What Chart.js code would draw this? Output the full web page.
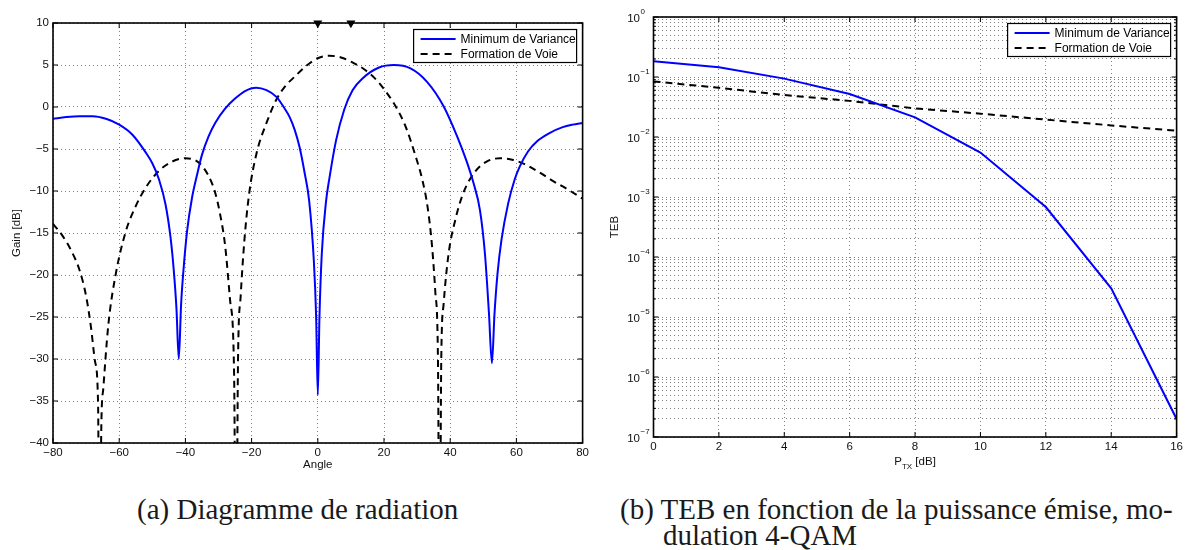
<!DOCTYPE html>
<html>
<head>
<meta charset="utf-8">
<script src="https://cdn.jsdelivr.net/npm/chart.js@4.4.1/dist/chart.umd.min.js"></script>
<style>
  body { margin: 0; background: #fff; width: 1186px; height: 550px; overflow: hidden; position: relative; }
  .plot { position: absolute; top: 0; }
  .cap { position: absolute; font-family: 'Liberation Serif', 'Times New Roman', serif; font-size: 29px; line-height: 30px; color: #1a1a1a; white-space: nowrap; }
</style>
</head>
<body>
<div class="plot" style="left:0px"><canvas id="chartA" width="592" height="480"></canvas></div>
<div class="plot" style="left:590px"><canvas id="chartB" width="596" height="480"></canvas></div>
<div class="cap" style="left:137px;top:494px">(a) Diagramme de radiation</div>
<div class="cap" style="left:620px;top:494px">(b) TEB en fonction de la puissance émise, mo-</div>
<div class="cap" style="left:663px;top:520px">dulation 4-QAM</div>
<script>
// (a) diagramme de radiation
const angleMV = [-80, -76, -72, -68, -64, -60, -56, -52, -50, -48, -46, -44.5, -43.5, -42.7, -42, -41.3, -40.6, -39.5, -38, -36.5,
  -35, -33, -31, -28, -25, -22, -18.6, -15.5, -12.5, -10, -8.5, -7, -5.5, -4, -2.6, -1.2, -0.5, 0, 0.5, 1.2,
  2.5, 3.5, 5.5, 8, 10.5, 13.5, 18.5, 23, 28, 33, 38, 42, 45, 47, 49, 50.5, 51.7, 52.6, 53.4, 54.3,
  55.5, 57.5, 59.5, 61, 63.5, 66.5, 70, 74, 77, 80];
const gainMV = [-1.4, -1.2, -1.1, -1.1, -1.4, -2.1, -3.3, -5.4, -6.7, -8.6, -11.6, -15.5, -19.5, -24, -30, -23.5, -19.5, -14.8, -10.8, -8.1,
  -5.7, -3.5, -1.9, -0.2, 1.0, 1.9, 2.3, 2.0, 1.2, -0.2, -1.2, -2.7, -4.8, -7.8, -11.2, -18.3, -25, -34.3, -25, -17.5,
  -11.2, -8.5, -4.0, -0.3, 2.0, 3.4, 4.7, 5.0, 4.6, 3.0, 0.1, -3.4, -6.5, -9.0, -12.3, -17.5, -24.5, -30.5, -24.5, -19.8,
  -15.8, -11.5, -8.6, -7.1, -5.3, -4.0, -3.1, -2.4, -2.1, -1.9];

const angleFV = [-80, -77, -74.5, -72, -70, -68.5, -67.3, -66.4, -65.9, -65.4, -64.8, -63.3, -61, -58, -55, -52, -48, -44, -40, -36,
  -33, -31, -29.6, -28, -26.5, -25.3, -24.7, -24.1, -23.3, -22.2, -20.8, -18.5, -15.5, -12.5, -10, -7, -3.5, 0, 3.5, 7,
  10, 14, 18, 21, 23.5, 26.5, 29.5, 31.6, 33.2, 34.5, 35.5, 36.3, 36.8, 37.3, 38, 39.5, 41.5, 44, 47.5, 51,
  55, 59, 63, 67, 71, 75, 80];
const gainFV = [-13.9, -15.4, -17.1, -19.4, -22.5, -26.3, -30.3, -35.0, -60, -38, -33.5, -26.0, -19.8, -14.8, -11.8, -9.6, -7.6, -6.5, -6.1, -6.6,
  -8.2, -10.2, -12.6, -16.5, -23.0, -31.5, -60, -30, -22.5, -16.0, -10.5, -5.5, -1.9, 0.9, 2.4, 3.6, 4.9, 5.8, 6.1, 5.9,
  5.4, 4.5, 3.1, 1.6, 0.1, -2.3, -5.8, -8.7, -12.0, -16.5, -22.0, -30, -60, -30, -23.5, -17.5, -13.5, -10.2, -7.7, -6.5,
  -6.1, -6.3, -6.9, -7.8, -8.8, -9.7, -10.9];

const markAngle = [0, 10];
const markGain = [10, 10];

const angleTicks = [-80, -60, -40, -20, 0, 20, 40, 60, 80];
const gainTicks = [-40, -35, -30, -25, -20, -15, -10, -5, 0, 5, 10];

// (b) TEB vs puissance
const pTx = [0, 2, 4, 6, 8, 10, 12, 14, 16];
const tebMV = [0.183, 0.145, 0.094, 0.052, 0.0213, 0.0055, 6.8e-4, 3.0e-5, 2.0e-7];
const tebFV = [0.0845, 0.066, 0.050, 0.040, 0.030, 0.0245, 0.0195, 0.0156, 0.0127];
const tebDecades = [-7, -6, -5, -4, -3, -2, -1, 0];

Chart.defaults.font.family = "'Liberation Sans', Arial, sans-serif";
Chart.defaults.font.size = 11.5;
Chart.defaults.color = '#111';

const gridDash = [1, 3];
const gridColor = 'rgba(0,0,0,0.5)';
const minus = v => String(v).replace('-', '\u2212');
const pts = (xs, ys) => xs.map((v, i) => ({x: v, y: ys[i]}));
const isDecade = v => Math.abs(Math.log10(v) - Math.round(Math.log10(v))) < 1e-6;

// box, inward ticks and boxed legend, matlab style
const frame = {
  id: 'frame',
  afterDatasetsDraw(chart, args, opts) {
    const {ctx, chartArea: a, scales: {x, y}} = chart;
    ctx.save();
    ctx.strokeStyle = '#000';
    ctx.lineWidth = 1;
    ctx.beginPath();
    x.ticks.forEach(t => {
      const px = x.getPixelForValue(t.value);
      ctx.moveTo(px, a.bottom); ctx.lineTo(px, a.bottom - 5);
      ctx.moveTo(px, a.top); ctx.lineTo(px, a.top + 5);
    });
    y.ticks.forEach(t => {
      const py = y.getPixelForValue(t.value);
      const len = opts.log && !isDecade(t.value) ? 2.5 : 5;
      ctx.moveTo(a.left, py); ctx.lineTo(a.left + len, py);
      ctx.moveTo(a.right, py); ctx.lineTo(a.right - len, py);
    });
    ctx.stroke();

    ctx.lineWidth = 1.6;
    ctx.strokeRect(a.left, a.top, a.right - a.left, a.bottom - a.top);

    // legend
    const sets = chart.data.datasets.filter(d => d.label);
    const w = 163, h = 33;
    const lx = a.right - 6 - w, ly = a.top + 6.5;
    ctx.fillStyle = '#fff';
    ctx.fillRect(lx, ly, w, h);
    ctx.lineWidth = 1.2;
    ctx.strokeRect(lx, ly, w, h);
    ctx.font = "12px 'Liberation Sans', Arial, sans-serif";
    ctx.textBaseline = 'middle';
    sets.forEach((d, i) => {
      const yy = ly + 9.5 + i * 15;
      ctx.beginPath();
      ctx.setLineDash(d.borderDash || []);
      ctx.strokeStyle = d.borderColor;
      ctx.lineWidth = d.borderWidth;
      ctx.moveTo(lx + 7, yy); ctx.lineTo(lx + 42, yy);
      ctx.stroke();
      ctx.setLineDash([]);
      ctx.fillStyle = '#000';
      ctx.fillText(d.label, lx + 47, yy + 0.5);
    });

    // log axis labels 10^n and subscript x title
    if (opts.log) {
      ctx.fillStyle = '#111';
      tebDecades.forEach(e => {
        const py = y.getPixelForValue(Math.pow(10, e));
        ctx.font = "11.5px 'Liberation Sans', Arial, sans-serif";
        ctx.textAlign = 'right';
        ctx.fillText('10', a.left - 13.5, py + 1.5);
        ctx.font = "8px 'Liberation Sans', Arial, sans-serif";
        ctx.textAlign = 'left';
        ctx.fillText(minus(e), a.left - 13, py - 5);
      });
      const big = "11.5px 'Liberation Sans', Arial, sans-serif";
      const small = "8px 'Liberation Sans', Arial, sans-serif";
      ctx.font = big; const wP = ctx.measureText('P').width; const wD = ctx.measureText(' [dB]').width;
      ctx.font = small; const wS = ctx.measureText('TX').width;
      let tx = (a.left + a.right) / 2 - (wP + wS + wD) / 2;
      const ty = 462;
      ctx.textAlign = 'left';
      ctx.font = big; ctx.fillText('P', tx, ty); tx += wP;
      ctx.font = small; ctx.fillText('TX', tx, ty + 4.5); tx += wS;
      ctx.font = big; ctx.fillText(' [dB]', tx, ty);
    }
    ctx.restore();
  }
};

const ctxA = document.getElementById('chartA').getContext('2d');
const chartA = new Chart(ctxA, {
  type: 'line',
  data: {
    datasets: [
      {
        label: 'Minimum de Variance',
        data: pts(angleMV, gainMV),
        borderColor: '#0000ff',
        borderWidth: 2,
        pointRadius: 0,
        cubicInterpolationMode: 'monotone'
      },
      {
        label: 'Formation de Voie',
        data: pts(angleFV, gainFV),
        borderColor: '#000',
        borderWidth: 2,
        borderDash: [7, 5],
        pointRadius: 0,
        cubicInterpolationMode: 'monotone'
      },
      {
        data: pts(markAngle, markGain),
        showLine: false,
        pointStyle: 'triangle',
        rotation: 180,
        pointRadius: 5.2,
        pointBackgroundColor: '#000',
        pointBorderColor: '#000',
        pointBorderWidth: 0,
        clip: false
      }
    ]
  },
  options: {
    responsive: false,
    animation: false,
    events: [],
    layout: { padding: { top: 23, right: 8, left: 0, bottom: 0 } },
    plugins: { legend: { display: false }, tooltip: { enabled: false }, frame: { log: false } },
    scales: {
      x: {
        type: 'linear', min: -80, max: 80,
        afterBuildTicks: s => { s.ticks = angleTicks.map(v => ({value: v})); },
        afterFit: s => { s.height = 37; },
        ticks: { callback: minus, padding: 3, maxRotation: 0, autoSkip: false },
        grid: { color: gridColor, drawTicks: false },
        border: { display: false, dash: gridDash },
        title: { display: true, text: 'Angle', padding: { top: 0, bottom: 8 } }
      },
      y: {
        type: 'linear', min: -40, max: 10,
        afterBuildTicks: s => { s.ticks = gainTicks.map(v => ({value: v})); },
        afterFit: s => { s.width = 53; },
        ticks: { callback: minus, padding: 4, autoSkip: false },
        grid: { color: gridColor, drawTicks: false },
        border: { display: false, dash: gridDash },
        title: { display: true, text: 'Gain [dB]', padding: { top: 10, bottom: 0 } }
      }
    }
  },
  plugins: [frame]
});

const ctxB = document.getElementById('chartB').getContext('2d');
const tebGrid = tebDecades.flatMap(e => [1, 2, 3, 4, 5, 6, 7, 8, 9].map(m => m * Math.pow(10, e))).filter(v => v <= 1.0000001);
const chartB = new Chart(ctxB, {
  type: 'line',
  data: {
    datasets: [
      {
        label: 'Minimum de Variance',
        data: pts(pTx, tebMV),
        borderColor: '#0000ff',
        borderWidth: 2,
        pointRadius: 0,
        tension: 0
      },
      {
        label: 'Formation de Voie',
        data: pts(pTx, tebFV),
        borderColor: '#000',
        borderWidth: 2,
        borderDash: [7, 5],
        pointRadius: 0,
        tension: 0
      }
    ]
  },
  options: {
    responsive: false,
    animation: false,
    events: [],
    layout: { padding: { top: 17, right: 4, left: 0, bottom: 0 } },
    plugins: { legend: { display: false }, tooltip: { enabled: false }, frame: { log: true } },
    scales: {
      x: {
        type: 'linear', min: 0, max: 16,
        afterBuildTicks: s => { s.ticks = pTx.map(v => ({value: v})); },
        afterFit: s => { s.height = 43; },
        ticks: { padding: 3, maxRotation: 0, autoSkip: false },
        grid: { color: gridColor, drawTicks: false },
        border: { display: false, dash: gridDash },
        title: { display: false }
      },
      y: {
        type: 'logarithmic', min: 1e-7, max: 1,
        afterBuildTicks: s => { s.ticks = tebGrid.map(v => ({value: v})); },
        afterFit: s => { s.width = 63.5; },
        ticks: { callback: () => '', autoSkip: false },
        grid: { color: gridColor, drawTicks: false },
        border: { display: false, dash: gridDash },
        title: { display: true, text: 'TEB', padding: { top: 18, bottom: 0 } }
      }
    }
  },
  plugins: [frame]
});
</script>
</body>
</html>
